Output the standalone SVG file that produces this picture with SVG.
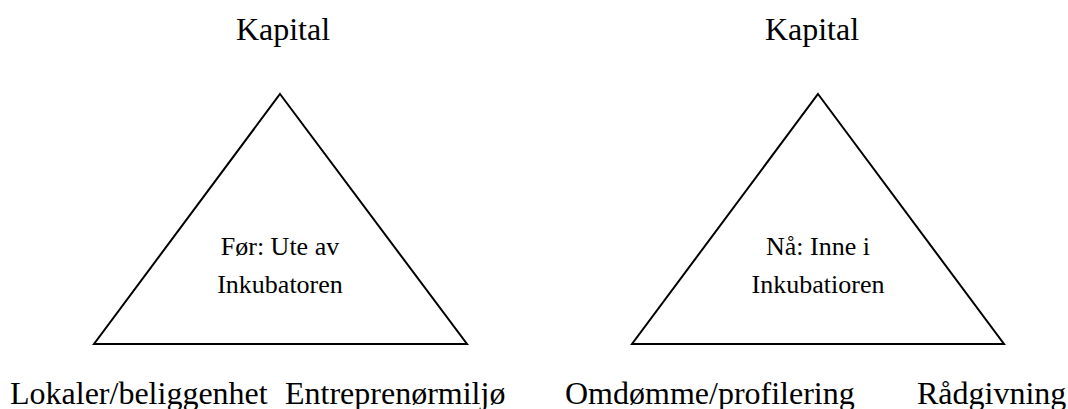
<svg xmlns="http://www.w3.org/2000/svg" width="1068" height="409" viewBox="0 0 1068 409">
<style>
.tri{fill:#fff;stroke:#000;stroke-width:2;stroke-linejoin:miter}
.t{font-family:'Liberation Serif','DejaVu Serif',serif;fill:#000}
.top{font-size:32px;text-anchor:middle}
.inner{font-size:26px;text-anchor:middle}
.bottom{font-size:32px}
</style>
<rect width="1068" height="409" fill="#fff"/>
<g id="triangle-before">
<polygon class="tri" points="280,94 467,344 94,344"/>
<text class="t inner" x="280" y="255" font-family="Liberation Serif, serif">Før: Ute av</text>
<text class="t inner" x="280" y="293" font-family="Liberation Serif, serif">Inkubatoren</text>
</g>
<g id="triangle-now">
<polygon class="tri" points="818,94 1004,344 632,344"/>
<text class="t inner" x="818" y="255" font-family="Liberation Serif, serif">Nå: Inne i</text>
<text class="t inner" x="818" y="293" font-family="Liberation Serif, serif">Inkubatioren</text>
</g>
<g id="label-kapital-1"><text class="t top" x="283" y="40" font-family="Liberation Serif, serif">Kapital</text></g>
<g id="label-kapital-2"><text class="t top" x="812" y="40" font-family="Liberation Serif, serif">Kapital</text></g>
<g id="label-lokaler"><text class="t bottom" x="10" y="404" font-family="Liberation Serif, serif">Lokaler/beliggenhet</text></g>
<g id="label-entreprenor"><text class="t bottom" x="285" y="404" font-family="Liberation Serif, serif">Entreprenørmiljø</text></g>
<g id="label-omdomme"><text class="t bottom" x="565" y="404" font-family="Liberation Serif, serif">Omdømme/profilering</text></g>
<g id="label-radgivning"><text class="t bottom" x="917" y="404" font-family="Liberation Serif, serif">Rådgivning</text></g>
<g id="connectors"></g>
</svg>
